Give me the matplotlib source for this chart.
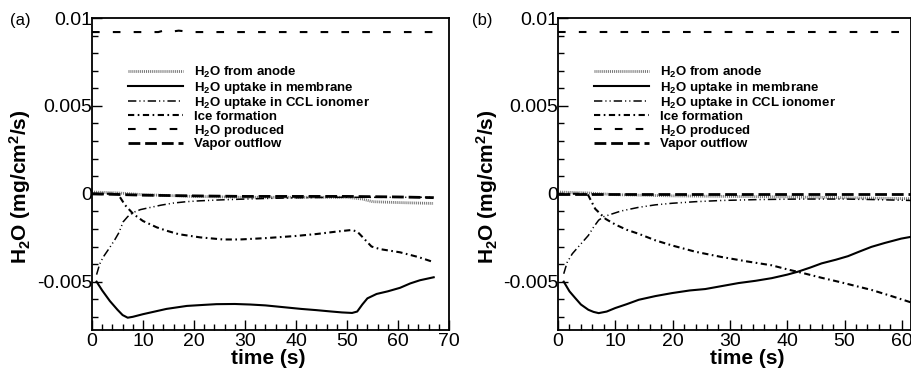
import matplotlib
matplotlib.use("Agg")
import matplotlib.pyplot as plt
import numpy as np

plt.rcParams['font.family'] = ['Liberation Sans', 'DejaVu Sans']
plt.rcParams['mathtext.fontset'] = 'custom'
plt.rcParams['mathtext.rm'] = 'Liberation Sans'
plt.rcParams['mathtext.bf'] = 'Liberation Sans:bold'
plt.rcParams['mathtext.default'] = 'bf'
plt.rcParams['lines.scale_dashes'] = False

# ---------------- data (values in 1e-3 mg/cm2/s) ----------------
labels = ["H$_2$O from anode", "H$_2$O uptake in membrane", "H$_2$O uptake in CCL ionomer",
          "Ice formation", "H$_2$O produced", "Vapor outflow"]

# panel (a)
t_a_anode = [0, 5, 10, 15, 20, 30, 40, 50, 53, 55, 60, 67]
y_a_anode = [0.1, 0.05, -0.05, -0.1, -0.15, -0.2, -0.2, -0.2, -0.3, -0.45, -0.5, -0.55]
t_a_mem = [0.9, 2, 3.5, 5, 6, 7, 8, 10, 12, 14.6, 18.6, 22, 24.4, 28, 31, 34, 37.5, 41, 44,
           47, 49, 51, 52, 53, 54, 55.8, 58, 60.4, 62.4, 64.3, 67]
y_a_mem = [-5.0, -5.5, -6.1, -6.6, -6.9, -7.05, -7.0, -6.85, -6.72, -6.55, -6.38, -6.32, -6.28,
           -6.27, -6.3, -6.35, -6.45, -6.55, -6.62, -6.7, -6.75, -6.78, -6.7, -6.3, -5.95,
           -5.7, -5.55, -5.35, -5.1, -4.92, -4.75]
t_a_ccl = [0.9, 1.5, 2.2, 3.5, 4.5, 5.3, 6.1, 7, 8.1, 9.5, 11.4, 13.5, 15.9, 18.5, 21.2, 25,
           30, 35, 40, 45, 50, 55, 60, 67]
y_a_ccl = [-4.6, -4.0, -3.6, -3.05, -2.6, -2.2, -1.6, -1.3, -1.06, -0.9, -0.78, -0.65, -0.53,
           -0.45, -0.4, -0.35, -0.3, -0.26, -0.23, -0.21, -0.2, -0.2, -0.2, -0.2]
t_a_ice = [0.0, 5.0, 5.5, 6.5, 8.1, 10, 12.7, 14.6, 17, 21.2, 25.7, 29, 34.2, 40, 44, 48, 50.9,
           52.0, 53.0, 54.8, 56.5, 60.4, 64, 66.9]
y_a_ice = [0.0, 0.0, -0.2, -0.65, -1.15, -1.55, -1.91, -2.1, -2.3, -2.48, -2.6, -2.6, -2.52,
           -2.4, -2.29, -2.15, -2.06, -2.15, -2.45, -3.0, -3.15, -3.33, -3.6, -3.88]
t_a_prod = [0, 13, 14, 15, 17, 18, 19, 67]
y_a_prod = [9.2, 9.2, 9.28, 9.2, 9.28, 9.25, 9.2, 9.2]
t_a_vap = [0, 10, 20, 30, 40, 50, 60, 67]
y_a_vap = [0.0, -0.08, -0.12, -0.15, -0.15, -0.15, -0.18, -0.22]

# panel (b)
t_b_anode = [0, 5, 10, 20, 30, 40, 50, 61.6]
y_b_anode = [0.1, 0.05, -0.05, -0.12, -0.15, -0.18, -0.22, -0.28]
t_b_mem = [1.0, 2, 3, 4, 5.3, 6.2, 7.1, 8.5, 10, 12, 14.1, 17, 19.9, 23, 25.7, 28.6, 31.5,
           34.5, 37.3, 40, 41.9, 44, 46, 48.5, 50.6, 52.5, 54.7, 57, 59.9, 61.6]
y_b_mem = [-5.0, -5.55, -5.93, -6.3, -6.6, -6.72, -6.79, -6.7, -6.5, -6.28, -6.03, -5.82,
           -5.65, -5.5, -5.42, -5.25, -5.08, -4.95, -4.8, -4.6, -4.43, -4.2, -3.96, -3.75,
           -3.55, -3.3, -3.02, -2.8, -2.55, -2.45]
t_b_ccl = [1.0, 1.6, 2.5, 4, 5.3, 6.2, 7.1, 8, 9.4, 11, 14.1, 17, 19.9, 24, 28.6, 35, 42, 50,
           55, 61.6]
y_b_ccl = [-4.55, -3.9, -3.41, -2.85, -2.37, -1.9, -1.5, -1.3, -1.15, -0.98, -0.77, -0.63,
           -0.54, -0.45, -0.38, -0.33, -0.3, -0.3, -0.33, -0.38]
t_b_ice = [0, 5.0, 5.3, 6.5, 8.3, 10, 12, 14.1, 17, 19.9, 24, 28.6, 33, 37.3, 40, 43.1, 46,
           48.9, 52, 54.7, 58, 61.6]
y_b_ice = [0, 0, -0.1, -0.86, -1.43, -1.75, -2.05, -2.28, -2.65, -2.94, -3.3, -3.6, -3.85,
           -4.07, -4.3, -4.54, -4.78, -5.0, -5.25, -5.47, -5.8, -6.18]
t_b_prod = [0, 61.6]
y_b_prod = [9.2, 9.2]
t_b_vap = [0, 20, 40, 61.6]
y_b_vap = [0.0, 0.0, 0.0, 0.0]

ytick_vals = [-0.005, 0.0, 0.005, 0.01]
ytick_labels = ["-0.005", "0", "0.005", "0.01"]
xticks_a = [0, 10, 20, 30, 40, 50, 60, 70]
xticks_b = [0, 10, 20, 30, 40, 50, 60]

styles = [
    dict(color='0.45', lw=2.0, ls=(0, (0.7, 0.7))),
    dict(color='black', lw=1.5, ls='-'),
    dict(color='black', lw=1.1, ls=(0, (6, 2.2, 0.8, 2.2, 0.8, 2.2))),
    dict(color='black', lw=1.5, ls=(0, (4.5, 2.5, 1.2, 2.5))),
    dict(color='black', lw=1.5, ls=(0, (5.5, 9.5))),
    dict(color='black', lw=2.0, ls=(0, (8.5, 3.5))),
]

fig = plt.figure(figsize=(9.11, 3.74), dpi=100)
ax_a = fig.add_axes([92/911, 1-330/374, 357/911, 312/374])
ax_b = fig.add_axes([558/911, 1-330/374, 353/911, 312/374])

series_a = [(t_a_anode, y_a_anode), (t_a_mem, y_a_mem), (t_a_ccl, y_a_ccl),
            (t_a_ice, y_a_ice), (t_a_prod, y_a_prod), (t_a_vap, y_a_vap)]
series_b = [(t_b_anode, y_b_anode), (t_b_mem, y_b_mem), (t_b_ccl, y_b_ccl),
            (t_b_ice, y_b_ice), (t_b_prod, y_b_prod), (t_b_vap, y_b_vap)]

for ax, series, xticks, xmax, tag, tagx, xlab_x in [
        (ax_a, series_a, xticks_a, 70, "(a)", 10/911, 0.493),
        (ax_b, series_b, xticks_b, 61.6, "(b)", 472/911, 0.535)]:
    for (t, y), st, lab in zip(series, styles, labels):
        ax.plot(t, np.array(y) * 1e-3, label=lab, **st)
    ax.set_xlim(0, xmax)
    ax.set_ylim(-0.00775, 0.01)
    ax.set_xticks(xticks)
    ax.set_xticks(np.arange(0, xmax + 0.01, 2), minor=True)
    ax.set_yticks(ytick_vals)
    ax.set_yticklabels(ytick_labels)
    ax.set_yticks(np.arange(-0.007, 0.0095, 0.001), minor=True)
    ax.tick_params(which='both', direction='in', top=False, right=False,
                   labelsize=14, width=1.0)
    ax.tick_params(which='major', length=7)
    ax.tick_params(which='minor', length=4)
    ax.tick_params(axis='y', pad=0)
    ax.tick_params(axis='x', pad=2)
    for sp in ax.spines.values():
        sp.set_linewidth(1.3)
    ax.set_xlabel("time (s)", fontsize=15, fontweight='bold')
    ax.set_ylabel("H$_2$O (mg/cm$^2$/s)", fontsize=15, fontweight='bold')
    ax.xaxis.set_label_coords(xlab_x, -0.06)
    ax.yaxis.set_label_coords(-0.165, 0.46)
    leg = ax.legend(loc='upper left', bbox_to_anchor=(0.101, 0.85), frameon=False,
                    prop={'size': 9.5, 'weight': 'bold'}, handlelength=4.2,
                    handletextpad=0.8, labelspacing=-0.03, borderpad=0, borderaxespad=0)
    fig.text(tagx, 1 - 21/374, tag, fontsize=12, va='center', ha='left')

fig.savefig("out.png", dpi=100)
